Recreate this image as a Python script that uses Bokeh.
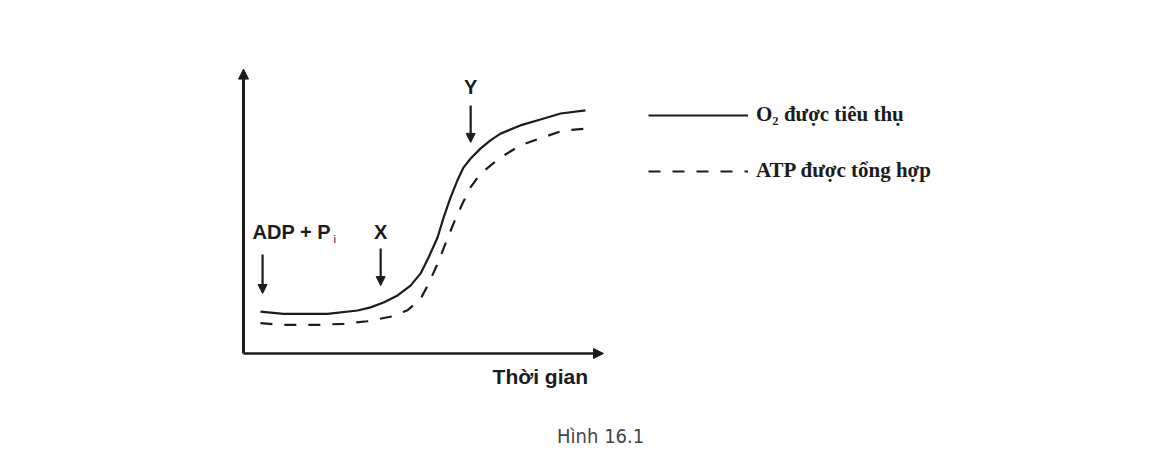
from bokeh.plotting import figure
from bokeh.models import Range1d, Arrow, NormalHead, Label, Legend, LegendItem
from bokeh.embed import file_html
from bokeh.resources import INLINE

# ---- data (time and rate in arbitrary units) ----
o2_time = [0.47, 1.11, 2.33, 3.17, 3.53, 3.89, 4.28, 4.64, 4.92, 5.14, 5.39, 5.56, 5.75, 5.94,
           6.11, 6.31, 6.58, 6.86, 7.14, 7.69, 8.25, 8.81, 9.50]
o2_value = [1.48, 1.40, 1.40, 1.52, 1.63, 1.80, 2.05, 2.40, 2.83, 3.39, 4.10, 4.81, 5.51, 6.11,
            6.57, 6.89, 7.24, 7.53, 7.77, 8.06, 8.27, 8.48, 8.59]

atp_time = [0.47, 1.11, 2.06, 2.78, 3.44, 4.08, 4.56, 4.92, 5.14, 5.39, 5.61, 5.83, 6.08, 6.31,
            6.58, 6.86, 7.14, 7.69, 8.25, 8.89, 9.50]
atp_value = [1.07, 1.01, 1.01, 1.05, 1.14, 1.30, 1.53, 1.93, 2.46, 3.17, 3.88, 4.58, 5.29, 5.88,
             6.35, 6.64, 6.93, 7.35, 7.61, 7.88, 7.94]

event_names = ["ADP + P", "X", "Y"]
event_time = [0.53, 3.81, 6.31]
event_arrow_top = [3.50, 3.71, 8.76]
event_arrow_tip = [2.12, 2.40, 7.46]

series_labels = ["O\u2082 được tiêu thụ", "ATP được tổng hợp"]
x_label = "Thời gian"
caption = "Hình 16.1"

# ---- layout ----
W, H = 1133, 452
OX, OY = 243, 353              # origin in canvas px
SX, SY = 36.0, 28.3            # px per unit
x_rng = Range1d(-OX / SX, (W - OX) / SX)
y_rng = Range1d(-(H - OY) / SY, OY / SY)

p = figure(width=W, height=H, x_range=x_rng, y_range=y_rng,
           output_backend="svg", toolbar_location=None,
           x_axis_location=None, y_axis_location=None,
           min_border=0, outline_line_color=None)
p.grid.visible = False
p.background_fill_color = "white"
p.border_fill_color = "white"

ink = "#1c1c1c"

# axes drawn as arrows
p.add_layout(Arrow(x_start=0, y_start=0, x_end=0, y_end=10.05, line_width=3, line_color=ink,
                   end=NormalHead(size=10, fill_color=ink, line_color=ink)))
p.add_layout(Arrow(x_start=0, y_start=0, x_end=10.0, y_end=0, line_width=2.5, line_color=ink,
                   end=NormalHead(size=10, fill_color=ink, line_color=ink)))

# curves
r_o2 = p.line(o2_time, o2_value, line_color=ink, line_width=2.2, line_join="round")
r_atp = p.line(atp_time, atp_value, line_color=ink, line_width=2.2, line_dash="12 12", line_join="round")

# event arrows
for name, t, top, tip in zip(event_names, event_time, event_arrow_top, event_arrow_tip):
    p.add_layout(Arrow(x_start=t, y_start=top, x_end=t, y_end=tip, line_width=2.2, line_color=ink,
                       end=NormalHead(size=9, fill_color=ink, line_color=ink)))

lab_font = "Liberation Sans"
p.add_layout(Label(x=0.25, y=4.31, text=event_names[0], text_font=lab_font, text_font_size="20px",
                   text_font_style="bold", text_color=ink, text_baseline="middle", text_align="left"))
p.add_layout(Label(x=2.50, y=4.05, text="i", text_font=lab_font, text_font_size="11px",
                   text_color=ink, text_baseline="middle", text_align="left"))
p.add_layout(Label(x=event_time[1], y=4.31, text=event_names[1], text_font=lab_font, text_font_size="20px",
                   text_font_style="bold", text_color=ink, text_baseline="middle", text_align="center"))
p.add_layout(Label(x=event_time[2], y=9.43, text=event_names[2], text_font=lab_font, text_font_size="20px",
                   text_font_style="bold", text_color=ink, text_baseline="middle", text_align="center"))

p.add_layout(Label(x=6.92, y=-0.81, text=x_label, text_font=lab_font, text_font_size="21px",
                   text_font_style="bold", text_color=ink, text_baseline="middle", text_align="left"))
p.add_layout(Label(x=9.92, y=-2.90, text=caption,
                   text_font="'Liberation Sans Narrow', 'DejaVu Sans Condensed', sans-serif",
                   text_font_size="20px", text_color="#444444", text_baseline="middle", text_align="center"))

# legend
legend = Legend(items=[LegendItem(label=series_labels[0], renderers=[r_o2]),
                       LegendItem(label=series_labels[1], renderers=[r_atp])],
                location=(648, H - 440 + 257), orientation="vertical",
                glyph_width=100, glyph_height=20, label_height=20, spacing=31,
                label_standoff=8, padding=0, margin=0,
                border_line_color=None, background_fill_alpha=0,
                label_text_font="Liberation Serif", label_text_font_style="bold",
                label_text_font_size="21px", label_text_color=ink)
p.add_layout(legend)

open("out.html", "w").write(file_html(p, INLINE))
